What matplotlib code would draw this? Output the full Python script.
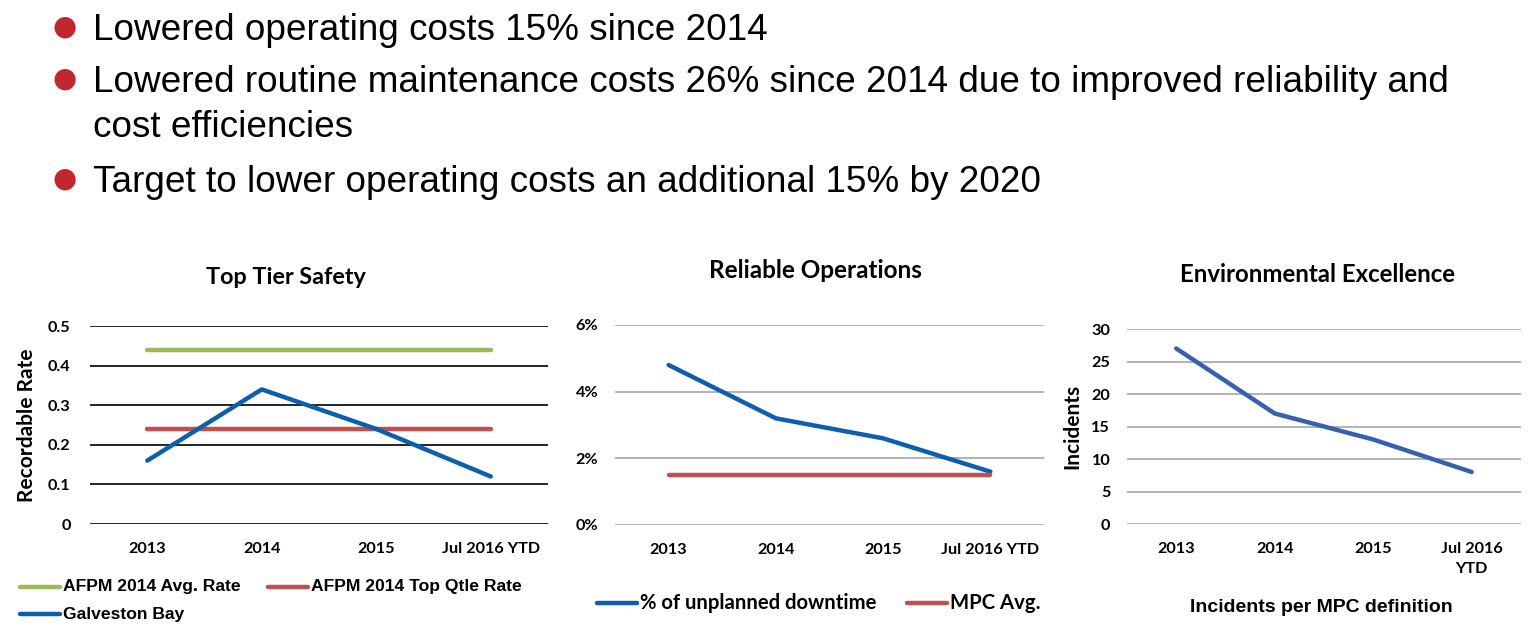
import matplotlib
matplotlib.use('Agg')
import matplotlib.pyplot as plt
from matplotlib.lines import Line2D
from matplotlib.ticker import FuncFormatter

W, H = 1531, 631

bullets = [
    "Lowered operating costs 15% since 2014",
    "Lowered routine maintenance costs 26% since 2014 due to improved reliability and\ncost efficiencies",
    "Target to lower operating costs an additional 15% by 2020",
]

years = ["2013", "2014", "2015", "Jul 2016 YTD"]
years_wrapped = ["2013", "2014", "2015", "Jul 2016\nYTD"]

afpm_avg = [0.44, 0.44, 0.44, 0.44]
afpm_top = [0.24, 0.24, 0.24, 0.24]
galveston = [0.16, 0.34, 0.24, 0.12]

downtime = [0.048, 0.032, 0.026, 0.016]
mpc_avg = [0.015, 0.015, 0.015, 0.015]

incidents = [27, 17, 13, 8]

GREEN = '#9BBB59'
RED = '#C0504D'
BLUE = '#0B5FAE'
BLUE3 = '#3760AE'
BULLET = '#C1272D'

CHART_FONT = 'Lato'
LW = 3.2


def px_rect(x0, y0, x1, y1):
    return [x0 / W, 1 - y1 / H, (x1 - x0) / W, (y1 - y0) / H]


def fx(x):
    return x / W


def fy(y):
    return 1 - y / H


def style_axes(ax, grid_color, ylim, yticks, ypad, labels):
    ax.set_xlim(-0.5, 3.5)
    ax.set_ylim(*ylim)
    ax.set_yticks(yticks)
    ax.set_xticks(range(4))
    ax.set_xticklabels(labels)
    for s in ax.spines.values():
        s.set_visible(False)
    ax.tick_params(length=0, labelsize=11.7)
    ax.tick_params(axis='y', pad=ypad)
    ax.tick_params(axis='x', pad=13)
    for lab in ax.get_xticklabels() + ax.get_yticklabels():
        lab.set_fontweight('bold')
        lab.set_family(CHART_FONT)
    ax.grid(axis='y', color=grid_color, lw=1.2)
    ax.set_axisbelow(True)
    ax.patch.set_alpha(0)


def legend_entry(x, y, color, label, family, size):
    # handle line 40px long, text right after it
    fig.add_artist(Line2D([fx(x), fx(x + 40)], [fy(y), fy(y)], color=color, lw=LW,
                          solid_capstyle='round', transform=fig.transFigure))
    fig.text(fx(x + 43), fy(y), label, family=family, fontweight='bold', fontsize=size,
             ha='left', va='center')


fig = plt.figure(figsize=(W / 100, H / 100), dpi=100)

# bullet list
bullet_base = [40, 92, 192]
for txt, yb in zip(bullets, bullet_base):
    fig.text(fx(65), fy(yb - 13), '\u25cf', color=BULLET, fontsize=20,
             ha='center', va='center', family='DejaVu Sans')
    for i, line in enumerate(txt.split('\n')):
        fig.text(fx(93), fy(yb + 45 * i), line, fontsize=26.6, family='Liberation Sans',
                 ha='left', va='baseline')

# chart 1: Top Tier Safety
ax1 = fig.add_axes(px_rect(90, 326, 548, 524))
ax1.plot(range(4), afpm_avg, color=GREEN, lw=LW, solid_capstyle='round')
ax1.plot(range(4), afpm_top, color=RED, lw=LW, solid_capstyle='round')
ax1.plot(range(4), galveston, color=BLUE, lw=LW, solid_capstyle='round')
style_axes(ax1, 'black', (0, 0.5), [0, 0.1, 0.2, 0.3, 0.4, 0.5], 14, years)
ax1.yaxis.set_major_formatter(FuncFormatter(lambda v, p: '0' if v == 0 else f'{v:.1f}'))
ax1.set_ylabel('Recordable Rate', fontsize=15, fontweight='bold', family=CHART_FONT)
ax1.yaxis.set_label_coords((37 - 90) / 458, 0.5)
fig.text(fx(286), fy(277), 'Top Tier Safety', fontsize=16.8, fontweight='bold',
         family=CHART_FONT, ha='center', va='center')
legend_entry(20, 587, GREEN, 'AFPM 2014 Avg. Rate', 'Liberation Sans', 12.6)
legend_entry(268, 587, RED, 'AFPM 2014 Top Qtle Rate', 'Liberation Sans', 12.6)
legend_entry(20, 614, BLUE, 'Galveston Bay', 'Liberation Sans', 12.6)

# chart 2: Reliable Operations
ax2 = fig.add_axes(px_rect(615, 325, 1044, 525))
ax2.plot(range(4), downtime, color=BLUE, lw=LW, solid_capstyle='round')
ax2.plot(range(4), mpc_avg, color=RED, lw=LW, solid_capstyle='round')
style_axes(ax2, '#A6A6A6', (0, 0.06), [0, 0.02, 0.04, 0.06], 12, years)
ax2.yaxis.set_major_formatter(FuncFormatter(lambda v, p: f'{v * 100:.0f}%'))
fig.text(fx(815), fy(271), 'Reliable Operations', fontsize=17.5, fontweight='bold',
         family=CHART_FONT, ha='center', va='center')
legend_entry(597, 603, BLUE, '% of unplanned downtime', CHART_FONT, 14.6)
legend_entry(907, 603, RED, 'MPC Avg.', CHART_FONT, 14.6)

# chart 3: Environmental Excellence
ax3 = fig.add_axes(px_rect(1127, 329, 1521, 524))
ax3.plot(range(4), incidents, color=BLUE3, lw=LW, solid_capstyle='round')
style_axes(ax3, '#A6A6A6', (0, 30), [0, 5, 10, 15, 20, 25, 30], 12, years_wrapped)
for lab in ax3.get_xticklabels():
    lab.set_linespacing(1.5)
ax3.set_ylabel('Incidents', fontsize=15, fontweight='bold', family=CHART_FONT)
ax3.yaxis.set_label_coords((1082 - 1127) / 394, 0.5)
fig.text(fx(1318), fy(274), 'Environmental Excellence', fontsize=17.3, fontweight='bold',
         family=CHART_FONT, ha='center', va='center')
fig.text(fx(1321), fy(607), 'Incidents per MPC definition', fontsize=14, fontweight='bold',
         family='Liberation Sans', ha='center', va='center')

fig.savefig('out.png', dpi=100)
